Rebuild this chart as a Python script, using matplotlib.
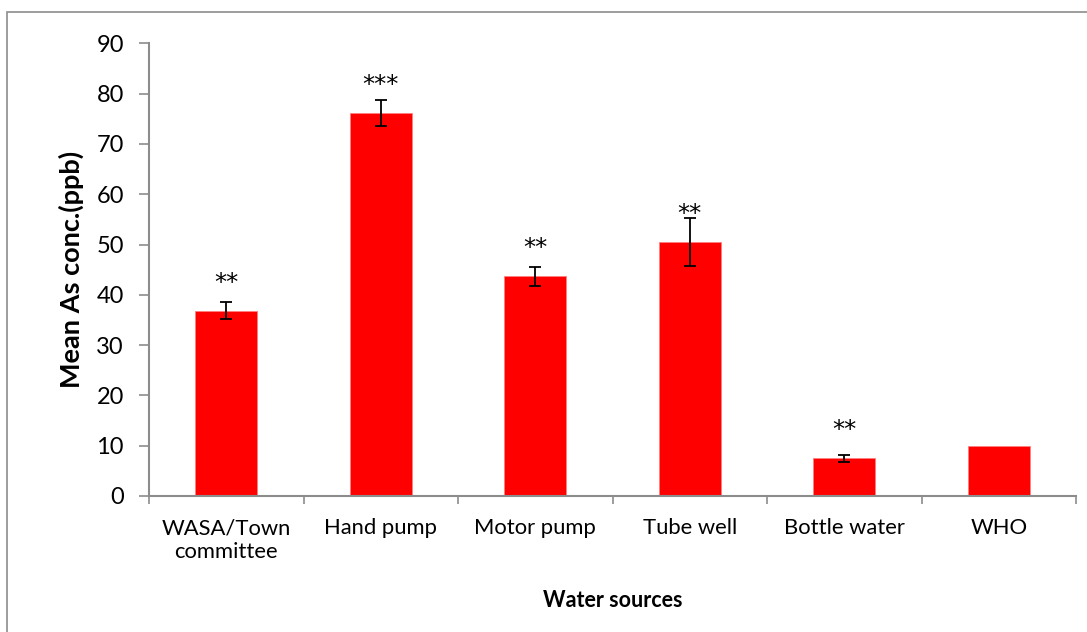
import matplotlib
matplotlib.use("Agg")
import matplotlib.pyplot as plt
from matplotlib.patches import Rectangle
import numpy as np

categories = ["WASA/Town\ncommittee", "Hand pump", "Motor pump", "Tube well", "Bottle water", "WHO"]
means = [36.8, 76.1, 43.7, 50.5, 7.5, 10.0]
errors = [1.7, 2.6, 1.9, 4.8, 0.7, 0.0]
stars = ["**", "***", "**", "**", "**", ""]
y_ticks = [0, 10, 20, 30, 40, 50, 60, 70, 80, 90]

plt.rcParams['font.family'] = ['Lato', 'DejaVu Sans']

fig = plt.figure(figsize=(10.87, 6.32), dpi=100)
ax = fig.add_axes([149/1087, 1 - 496/632, (1076 - 149)/1087, (496 - 43.3)/632])

# outer chart-area frame
fig.patches.append(Rectangle((7/1087, -0.05), 1.1, 1 - 12/632 + 0.05, transform=fig.transFigure,
                             fill=False, edgecolor="#8c8c8c", linewidth=1.2, zorder=0))

x = np.arange(len(categories))
yerr = [e if e > 0 else np.nan for e in errors]
ax.bar(x, means, width=0.4, color="#ff0000", edgecolor="#ff8080", linewidth=0.6, zorder=2)
ax.errorbar(x, means, yerr=yerr, fmt="none", ecolor="black", elinewidth=1.3,
            capsize=4, capthick=1.3, zorder=3)

for xi, m, s in zip(x, means, stars):
    if s:
        ax.annotate(s, (xi, m), xytext=(0, 15), textcoords="offset points",
                    ha="center", va="baseline", fontsize=17.5, color="black",
                    family="DejaVu Sans")

ax.set_xlim(-0.5, len(categories) - 0.5)
ax.set_ylim(0, 90)
ax.set_yticks(y_ticks)

ax.set_xticks(x)
ax.set_xticklabels(categories, fontsize=15.8, linespacing=1.25)
ax.set_xticks(np.arange(-0.5, len(categories)), minor=True)
ax.tick_params(axis="x", which="major", length=0, pad=16)
ax.tick_params(axis="x", which="minor", length=6, width=1.2, color="#8c8c8c", direction="out")
ax.tick_params(axis="y", length=7, width=1.2, color="#8c8c8c", direction="out", labelsize=17, pad=11)

for side in ["top", "right"]:
    ax.spines[side].set_visible(False)
for side in ["left", "bottom"]:
    ax.spines[side].set_color("#8c8c8c")
    ax.spines[side].set_linewidth(1.5)

ax.set_ylabel("Mean As conc.(ppb)", fontsize=19.5, fontweight="bold", labelpad=9)
ax.set_xlabel("Water sources", fontsize=15.5, fontweight="bold", labelpad=20)

fig.savefig("out.png", dpi=100)
